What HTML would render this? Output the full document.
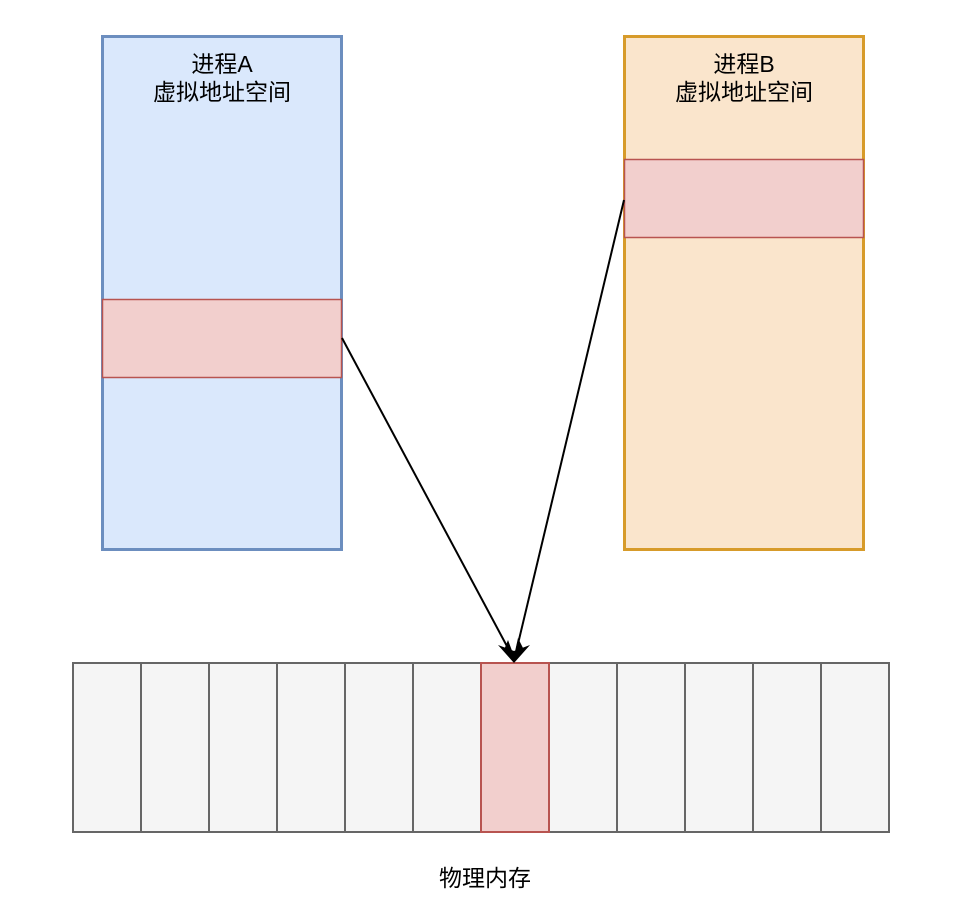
<!DOCTYPE html>
<html><head><meta charset="utf-8"><style>
html,body{margin:0;padding:0;background:#fff;width:962px;height:920px;overflow:hidden}
text{font-family:"Liberation Sans","Noto Sans CJK SC",sans-serif;font-size:23px;fill:#000}
</style></head><body>
<svg width="962" height="920" xmlns="http://www.w3.org/2000/svg">
<rect x="102.5" y="36.5" width="239" height="513" fill="#dae8fc" stroke="#6c8ebf" stroke-width="3"/>
<rect x="624.5" y="36.5" width="239" height="513" fill="#fae5cc" stroke="#d79b2a" stroke-width="3"/>
<rect x="102.5" y="299.5" width="239" height="78" fill="#f2cfcd" stroke="#b85450" stroke-width="1.5"/>
<rect x="624.5" y="159.5" width="239" height="78" fill="#f2cfcd" stroke="#b85450" stroke-width="1.5"/>
<text x="222" y="72" text-anchor="middle">进程A</text>
<text x="222" y="100" text-anchor="middle">虚拟地址空间</text>
<text x="744" y="72" text-anchor="middle">进程B</text>
<text x="744" y="100" text-anchor="middle">虚拟地址空间</text>
<g stroke="#666" stroke-width="2" fill="#f5f5f5">
<rect x="73" y="663" width="68" height="169"/>
<rect x="141" y="663" width="68" height="169"/>
<rect x="209" y="663" width="68" height="169"/>
<rect x="277" y="663" width="68" height="169"/>
<rect x="345" y="663" width="68" height="169"/>
<rect x="413" y="663" width="68" height="169"/>
<rect x="549" y="663" width="68" height="169"/>
<rect x="617" y="663" width="68" height="169"/>
<rect x="685" y="663" width="68" height="169"/>
<rect x="753" y="663" width="68" height="169"/>
<rect x="821" y="663" width="68" height="169"/>
</g>
<rect x="481" y="663" width="68" height="169" fill="#f2cfcd" stroke="#b85450" stroke-width="2"/>
<line x1="342" y1="338" x2="509" y2="650" stroke="#000" stroke-width="2"/>
<line x1="624" y1="200" x2="517" y2="648" stroke="#000" stroke-width="2"/>
<polygon points="498,645 514,663 530,645 514,651" fill="#000"/>
<polygon points="504,650 508,640 514,656" fill="#000"/>
<polygon points="524,650 518,638 514,656" fill="#000"/>
<text x="485" y="886" text-anchor="middle">物理内存</text>
</svg>
</body></html>
